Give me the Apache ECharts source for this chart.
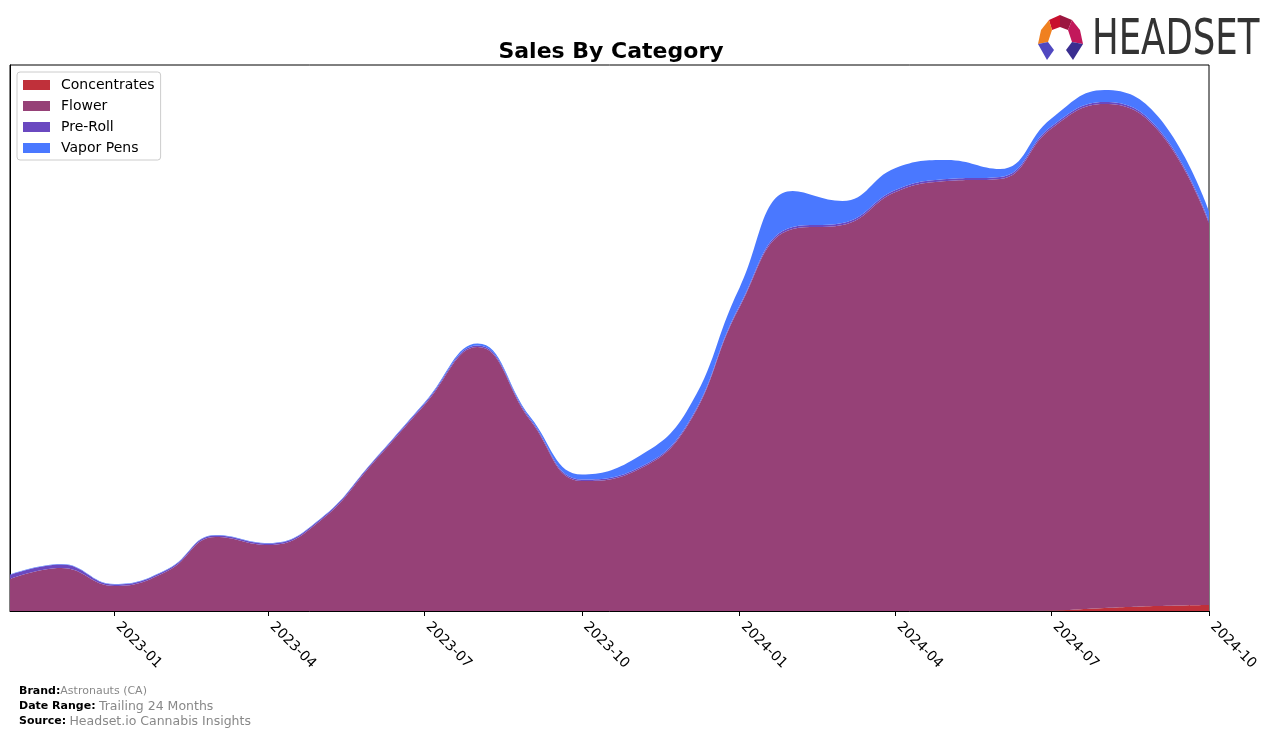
<!DOCTYPE html>
<html><head><meta charset="utf-8">
<script src="https://cdn.jsdelivr.net/npm/echarts@6/dist/echarts.min.js"></script>
<style>html,body{margin:0;padding:0;background:#fff}#c{width:1276px;height:739px}</style>
</head><body><div id="c"></div>
<script>
const months = ["2022-11","2022-12","2023-01","2023-02","2023-03","2023-04","2023-05","2023-06","2023-07","2023-08","2023-09","2023-10","2023-11","2023-12","2024-01","2024-02","2024-03","2024-04","2024-05","2024-06","2024-07","2024-08","2024-09","2024-10"];
const concentrates = [0,0,0,0,0,0,0,0,0,0,0,0,0,0,0,0,0,0,0,0,0.5,3,5,6];
const flower = [32,43,25,40,74,66,90,148,206,264,190,130,140,184,304,382,386,419,430,432,482,504,476,382];
const preRoll = [4,3.5,1.5,1.5,1.5,1.5,1.5,1.5,1.5,1.5,1.5,1.5,1.5,1.5,1.5,2,2,2,2,2,2,2,2,2];
const vaporPens = [0.5,0.5,0.5,0.5,0.5,0.5,0.5,0.5,1,2,2,5,11,14,18,36,22,22,19,8,8,12,12,10];
const tickLabels = ["2023-01","2023-04","2023-07","2023-10","2024-01","2024-04","2024-07","2024-10"];

const ts = s => { const [y,m] = s.split('-').map(Number); return Date.UTC(y, m-1, 1); };
const mk = arr => months.map((m,i)=>[ts(m), arr[i]]);
const colors = {Concentrates:'#c0303a', Flower:'#964177', 'Pre-Roll':'#6a48c0', 'Vapor Pens':'#4a78ff'};
const seriesDefs = [['Concentrates',concentrates],['Flower',flower],['Pre-Roll',preRoll],['Vapor Pens',vaporPens]];
const fmt = v => { const d = new Date(v); const s = d.getUTCFullYear()+'-'+String(d.getUTCMonth()+1).padStart(2,'0'); return tickLabels.includes(s) ? s : ''; };
const QUARTER = 91*24*3600*1000;

const chart = echarts.init(document.getElementById('c'), null, {renderer:'canvas', useUTC:true});
chart.setOption({
  animation:false,
  useUTC:true,
  backgroundColor:'#fff',
  title:{text:'Sales By Category', left:606, top:36, textAlign:'center',
    textStyle:{fontFamily:'DejaVu Sans', fontSize:22, fontWeight:'bold', color:'#000'}},
  legend:{orient:'vertical', left:17, top:72, itemWidth:27, itemHeight:10, itemGap:5,
    padding:[5,6,4,6], borderColor:'#cccccc', borderWidth:1, borderRadius:3, backgroundColor:'#fff',
    icon:'rect',
    textStyle:{fontFamily:'DejaVu Sans', fontSize:14, color:'#000', padding:[0,0,0,6], lineHeight:16},
    data:seriesDefs.map(d=>d[0])},
  grid:{left:10, right:67, top:65, bottom:128, show:true, borderColor:'#000', borderWidth:1, containLabel:false},
  xAxis:{type:'time', min:ts(months[0]), max:ts(months[months.length-1]),
    minInterval:QUARTER, maxInterval:QUARTER,
    axisLine:{show:true, onZero:false, lineStyle:{color:'#000'}},
    axisTick:{show:true, inside:false, length:5, lineStyle:{color:'#000'}},
    axisLabel:{rotate:-45, color:'#000', fontFamily:'DejaVu Sans', fontSize:14, margin:10, hideOverlap:false,
      padding:[0,0,0,5], showMinLabel:false, formatter: v => fmt(v)},
    splitLine:{show:false}},
  yAxis:{type:'value', min:0, max:546, show:true, axisLine:{show:true, lineStyle:{color:'#000'}}, axisLabel:{show:false}, axisTick:{show:false}, splitLine:{show:false}},
  series: seriesDefs.map(([name,arr])=>({
    name, type:'line', stack:'total', smooth:0.45, showSymbol:false, symbol:'none',
    data: mk(arr), color: colors[name],
    lineStyle:{width:0}, areaStyle:{color:colors[name], opacity:1}
  })),
  graphic:[
    {type:'text', x:1092, y:16, scaleX:0.71, style:{text:'HEADSET', fontFamily:'DejaVu Sans', fontSize:50, fill:'#333'}},
    {type:'polygon', shape:{points:[[1049,20],[1060,15],[1060,27],[1052,30]]}, style:{fill:'#c8102e'}},
    {type:'polygon', shape:{points:[[1060,15],[1072,20],[1068,30],[1060,27]]}, style:{fill:'#9b1640'}},
    {type:'polygon', shape:{points:[[1072,20],[1080,30],[1083,44],[1072,42],[1068,30]]}, style:{fill:'#c2185b'}},
    {type:'polygon', shape:{points:[[1049,20],[1052,30],[1048,42],[1038,44],[1041,30]]}, style:{fill:'#f08020'}},
    {type:'polygon', shape:{points:[[1038,44],[1048,42],[1054,50],[1047,60]]}, style:{fill:'#5048c0'}},
    {type:'polygon', shape:{points:[[1083,44],[1072,42],[1066,50],[1073,60]]}, style:{fill:'#3a2e90'}},
    {type:'text', left:19, top:686, style:{rich:{b:{fontFamily:'DejaVu Sans', fontSize:11, fontWeight:'bold', fill:'#000'}, g:{fontFamily:'DejaVu Sans', fontSize:11, fill:'#888'}}, text:'{b|Brand:}{g|Astronauts (CA)}'}},
    {type:'text', left:19, top:700, style:{rich:{b:{fontFamily:'DejaVu Sans', fontSize:11, fontWeight:'bold', fill:'#000'}, g:{fontFamily:'DejaVu Sans', fontSize:12.5, fill:'#888'}}, text:'{b|Date Range:} {g|Trailing 24 Months}'}},
    {type:'text', left:19, top:715, style:{rich:{b:{fontFamily:'DejaVu Sans', fontSize:11, fontWeight:'bold', fill:'#000'}, g:{fontFamily:'DejaVu Sans', fontSize:12.5, fill:'#888'}}, text:'{b|Source:} {g|Headset.io Cannabis Insights}'}}
  ]
});
</script></body></html>
